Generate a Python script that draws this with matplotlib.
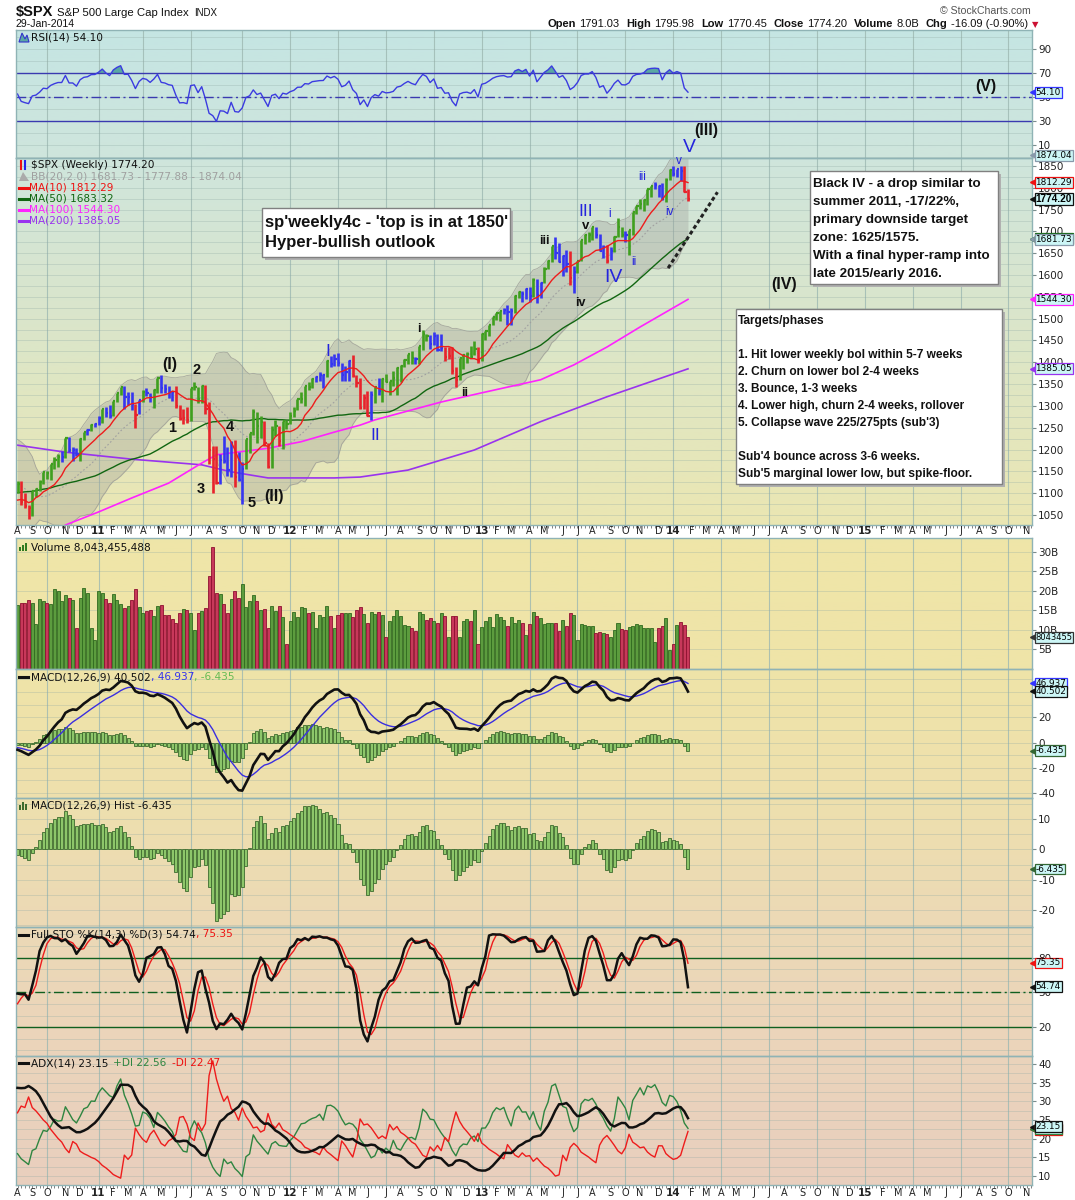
import numpy as np
import pandas as pd
import matplotlib
matplotlib.use("Agg")
import matplotlib.pyplot as plt
from matplotlib.lines import Line2D
from matplotlib.patches import Rectangle, Polygon
from matplotlib.colors import LinearSegmentedColormap
from matplotlib.transforms import blended_transform_factory

# ---------------------------------------------------------------
# weekly $SPX data (plus one year of lead-in
# so that the moving averages / oscillators are warmed up)
# ---------------------------------------------------------------
first_week = "2010-08-06"

warm_high = [1018, 1013, 1027, 1040, 1039, 1045, 1074, 1080, 1065, 1073, 1096, 1102, 1085,
             1072, 1097, 1113, 1112, 1119, 1110, 1117, 1130, 1133, 1145, 1150, 1150, 1115,
             1104, 1080, 1112, 1113, 1139, 1151, 1170, 1180, 1181, 1194, 1214, 1217, 1220,
             1197, 1174, 1147, 1106, 1105, 1093, 1120, 1131, 1078, 1078, 1100, 1103, 1121]
warm_low = [979, 990, 979, 1016, 991, 1017, 1041, 1041, 1020, 1026, 1069, 1074, 1033,
            1029, 1070, 1086, 1073, 1093, 1085, 1097, 1106, 1115, 1117, 1131, 1090, 1072,
            1044, 1056, 1075, 1086, 1105, 1135, 1143, 1156, 1164, 1175, 1187, 1181, 1183,
            1065, 1122, 1056, 1040, 1060, 1043, 1087, 1071, 1011, 1022, 1064, 1056, 1088]
warm_close = [1010, 1005, 1026, 1029, 1016, 1042, 1068, 1044, 1025, 1071, 1087, 1080, 1036,
              1069, 1093, 1091, 1092, 1106, 1106, 1102, 1127, 1115, 1145, 1136, 1092, 1074,
              1066, 1075, 1109, 1105, 1139, 1150, 1160, 1167, 1178, 1194, 1192, 1217, 1187,
              1111, 1136, 1088, 1089, 1065, 1092, 1117, 1076, 1023, 1078, 1065, 1102, 1102]

week_high = [
    # 2010
    1129, 1128, 1100, 1074, 1105, 1111, 1131, 1149, 1152, 1167, 1184, 1189, 1196, 1227,
    1228, 1207, 1204, 1226, 1241, 1247, 1259, 1262,
    # 2011
    1278, 1294, 1297, 1302, 1311, 1330, 1344, 1345, 1333, 1332, 1305, 1314, 1337, 1340,
    1329, 1338, 1364, 1370, 1350, 1346, 1334, 1346, 1302, 1293, 1298, 1341, 1356, 1344,
    1347, 1347, 1308, 1209, 1208, 1190, 1231, 1205, 1220, 1222, 1195, 1171, 1225, 1239,
    1293, 1285, 1277, 1266, 1215, 1255, 1267, 1255, 1265, 1268,
    # 2012
    1285, 1297, 1315, 1333, 1345, 1354, 1363, 1368, 1378, 1374, 1406, 1414, 1419, 1422,
    1398, 1392, 1406, 1416, 1370, 1365, 1328, 1334, 1335, 1344, 1364, 1363, 1374, 1357,
    1380, 1390, 1394, 1407, 1419, 1426, 1413, 1438, 1475, 1466, 1463, 1470, 1464, 1465,
    1434, 1434, 1434, 1389, 1409, 1420, 1424, 1438, 1448, 1435,
    # 2013
    1467, 1472, 1486, 1503, 1514, 1518, 1525, 1531, 1525, 1554, 1564, 1563, 1570, 1573,
    1594, 1592, 1585, 1618, 1635, 1667, 1687, 1674, 1646, 1658, 1654, 1620, 1632, 1680,
    1693, 1698, 1710, 1709, 1694, 1669, 1669, 1664, 1689, 1730, 1710, 1701, 1704, 1745,
    1759, 1775, 1774, 1798, 1804, 1813, 1806, 1811, 1823, 1844,
    # 2014
    1849, 1843, 1851, 1849, 1798]
week_low = [
    1100, 1074, 1067, 1040, 1048, 1092, 1106, 1122, 1132, 1131, 1155, 1159, 1171, 1180,
    1194, 1173, 1186, 1173, 1222, 1233, 1243, 1251,
    1257, 1262, 1275, 1273, 1276, 1310, 1325, 1294, 1302, 1291, 1249, 1282, 1309, 1322,
    1309, 1295, 1329, 1330, 1329, 1318, 1311, 1296, 1268, 1258, 1262, 1266, 1337, 1307,
    1306, 1282, 1168, 1101, 1121, 1122, 1170, 1140, 1136, 1114, 1128, 1075, 1155, 1191,
    1233, 1215, 1226, 1209, 1158, 1158, 1231, 1209, 1202, 1248,
    1258, 1274, 1290, 1306, 1300, 1337, 1340, 1356, 1357, 1340, 1366, 1389, 1391, 1392,
    1358, 1358, 1358, 1367, 1343, 1292, 1292, 1277, 1267, 1306, 1324, 1309, 1354, 1326,
    1345, 1325, 1354, 1390, 1397, 1397, 1397, 1396, 1429, 1449, 1430, 1439, 1425, 1426,
    1403, 1407, 1373, 1343, 1359, 1385, 1398, 1410, 1416, 1398,
    1402, 1451, 1460, 1485, 1496, 1495, 1510, 1486, 1485, 1514, 1547, 1538, 1545, 1539,
    1549, 1537, 1548, 1581, 1614, 1629, 1636, 1630, 1598, 1608, 1577, 1560, 1605, 1632,
    1671, 1676, 1681, 1684, 1654, 1640, 1627, 1634, 1653, 1687, 1687, 1675, 1646, 1692,
    1741, 1752, 1746, 1760, 1780, 1797, 1779, 1772, 1767, 1818,
    1828, 1824, 1815, 1790, 1770]
week_close = [
    1122, 1079, 1071, 1065, 1105, 1110, 1126, 1149, 1147, 1166, 1176, 1183, 1183, 1226,
    1200, 1200, 1189, 1225, 1240, 1244, 1257, 1258,
    1272, 1293, 1283, 1276, 1311, 1330, 1343, 1320, 1321, 1304, 1279, 1314, 1332, 1329,
    1320, 1337, 1364, 1340, 1338, 1333, 1331, 1300, 1271, 1272, 1268, 1340, 1344, 1316,
    1345, 1292, 1199, 1179, 1124, 1177, 1174, 1154, 1216, 1136, 1131, 1155, 1225, 1238,
    1285, 1253, 1264, 1216, 1159, 1244, 1255, 1219, 1265, 1258,
    1278, 1289, 1315, 1316, 1345, 1343, 1362, 1366, 1370, 1371, 1404, 1397, 1408, 1398,
    1370, 1378, 1403, 1369, 1353, 1295, 1318, 1278, 1325, 1343, 1335, 1362, 1355, 1357,
    1363, 1386, 1391, 1406, 1418, 1411, 1407, 1438, 1466, 1460, 1441, 1461, 1429, 1433,
    1412, 1414, 1380, 1359, 1409, 1416, 1418, 1413, 1430, 1402,
    1466, 1472, 1486, 1503, 1513, 1518, 1520, 1516, 1518, 1551, 1561, 1556, 1569, 1553,
    1588, 1555, 1582, 1614, 1633, 1667, 1650, 1631, 1643, 1626, 1593, 1606, 1632, 1680,
    1692, 1692, 1710, 1691, 1655, 1664, 1633, 1655, 1688, 1710, 1692, 1691, 1703, 1745,
    1759, 1762, 1771, 1798, 1804, 1806, 1805, 1775, 1818, 1841,
    1831, 1842, 1838, 1790, 1774.2]
# weekly volume, billions of shares
week_volume = [
    16.3, 16.7, 16.7, 17.5, 16.7, 11.3, 17.8, 17.2, 16.7, 16.6, 20.4, 19.9, 17.3, 18.8,
    18.2, 17.5, 10.3, 18.1, 20.6, 19.4, 10.5, 7.4,
    19.9, 19.4, 17.9, 16.7, 19.1, 17.6, 16.5, 15.6, 16.1, 17.6, 20.4, 15.8, 14.2, 14.8,
    14.9, 13.5, 16.1, 16.2, 13.7, 13.8, 12.8, 11.6, 14.2, 15.3, 15.0, 14.2, 9.8, 14.2,
    14.7, 15.5, 23.8, 31.3, 19.3, 19.1, 16.5, 14.2, 17.8, 19.8, 18.2, 21.7, 15.8, 17.4,
    18.8, 17.3, 14.9, 15.2, 10.5, 16.1, 14.8, 16.1, 13.3, 6.2,
    12.2, 14.4, 13.2, 15.8, 15.5, 14.3, 14.4, 10.5, 13.7, 13.2, 16.1, 13.5, 10.5, 13.7,
    14.2, 14.2, 14.2, 13.2, 15.0, 15.7, 14.0, 11.8, 14.6, 14.0, 14.4, 13.7, 8.1, 12.2,
    13.6, 15.0, 13.4, 11.1, 10.9, 10.4, 9.6, 14.4, 14.0, 12.5, 13.0, 12.1, 11.8, 14.2,
    13.5, 8.2, 13.5, 13.4, 8.0, 12.2, 12.6, 12.2, 15.0, 6.2,
    10.6, 12.1, 13.3, 10.6, 13.9, 13.3, 12.4, 11.0, 13.1, 11.8, 12.4, 11.7, 8.7, 11.5,
    14.4, 13.6, 12.9, 11.4, 11.6, 11.8, 11.7, 9.7, 12.5, 11.0, 14.2, 13.7, 7.2, 11.3,
    11.1, 10.9, 10.9, 9.2, 9.4, 9.0, 8.8, 8.2, 10.0, 11.6, 10.1, 10.0, 10.6, 10.8,
    11.4, 11.1, 10.4, 10.3, 10.3, 6.7, 10.3, 10.9, 12.9, 4.8,
    6.2, 11.1, 12.0, 11.1, 8.04]

ma100_week = [13, 22, 31, 41, 50, 54, 68, 77, 86, 93, 97, 115, 126, 142, 151, 160, 169, 182]
ma100_value = [1027, 1057, 1089, 1123, 1169, 1188, 1203, 1218, 1240, 1256, 1268, 1309,
               1330, 1360, 1394, 1435, 1481, 1544.3]
ma200_week = [0, 13, 31, 50, 58, 68, 86, 93, 106, 124, 142, 160, 182]
ma200_value = [1210, 1194, 1178, 1165, 1149, 1135, 1135, 1137, 1153, 1199, 1264, 1321, 1385.05]

# hand-drawn dashed trend line
trend_week = [176.6, 190.0]
trend_price = [1616, 1790]

assert len(week_high) == len(week_low) == len(week_close) == len(week_volume) == 183

# ---------------------------------------------------------------
# indicators
# ---------------------------------------------------------------
hi = pd.Series(warm_high + week_high, dtype=float)
lo = pd.Series(warm_low + week_low, dtype=float)
cl = pd.Series(warm_close + week_close, dtype=float)
nw = len(warm_close)

ma10 = cl.rolling(10).mean()
ma50 = cl.rolling(50, min_periods=40).mean()
bb_mid = cl.rolling(20).mean()
bb_sd = cl.rolling(20).std(ddof=0)
bb_hi = bb_mid + 2 * bb_sd
bb_lo = bb_mid - 2 * bb_sd

delta = cl.diff()
up = delta.clip(lower=0).ewm(alpha=1 / 14, adjust=False).mean()
dn = (-delta.clip(upper=0)).ewm(alpha=1 / 14, adjust=False).mean()
rsi = 100 - 100 / (1 + up / dn)

macd = cl.ewm(span=12, adjust=False).mean() - cl.ewm(span=26, adjust=False).mean()
signal = macd.ewm(span=9, adjust=False).mean()
hist = macd - signal

ll = lo.rolling(14).min()
hh = hi.rolling(14).max()
sto_k = (100 * (cl - ll) / (hh - ll)).rolling(3).mean()
sto_d = sto_k.rolling(3).mean()

prev_c = cl.shift()
tr = pd.concat([hi - lo, (hi - prev_c).abs(), (lo - prev_c).abs()], axis=1).max(axis=1)
up_move = hi.diff()
dn_move = -lo.diff()
pdm = np.where((up_move > dn_move) & (up_move > 0), up_move, 0.0)
mdm = np.where((dn_move > up_move) & (dn_move > 0), dn_move, 0.0)
atr = tr.ewm(alpha=1 / 14, adjust=False).mean()
pdi = 100 * pd.Series(pdm).ewm(alpha=1 / 14, adjust=False).mean() / atr
mdi = 100 * pd.Series(mdm).ewm(alpha=1 / 14, adjust=False).mean() / atr
dx = 100 * (pdi - mdi).abs() / (pdi + mdi)
adx = dx.ewm(alpha=1 / 14, adjust=False).mean()

# Elder impulse colours for the price bars
ema13 = cl.ewm(span=13, adjust=False).mean()
e_up, e_dn = ema13.diff() > 0, ema13.diff() < 0
h_up, h_dn = hist.diff() > 0, hist.diff() < 0
impulse = np.where(e_up & h_up, "#3f9f1f", np.where(e_dn & h_dn, "#e8232b", "#3535f0"))[nw:]


def tail(s):
    return np.asarray(s)[nw:]


x = np.arange(len(week_close))
closes = np.array(week_close)
vol_up = np.r_[closes[0] >= warm_close[-1], closes[1:] >= closes[:-1]]

# ---------------------------------------------------------------
# layout (pixel based, StockCharts style)
# ---------------------------------------------------------------
W, H = 1075, 1200
LEFT, RIGHT = 16, 1032
X0, DX = 17.5, 3.684
XLIM = ((LEFT - X0) / DX, (RIGHT - X0) / DX)
plt.rcParams['font.family'] = 'DejaVu Sans'

fig = plt.figure(figsize=(W / 100, H / 100), dpi=100)
fig.patch.set_facecolor('white')

dates = pd.date_range(first_week, periods=int(XLIM[1]) + 1, freq="7D")
month_pos = [i for i in range(len(dates)) if i == 0 or dates[i].month != dates[i - 1].month]
quarter_pos = [i for i in month_pos if dates[i].month in (1, 4, 7, 10)]

# background gradient behind all panels
bg = fig.add_axes([LEFT / W, 1 - 1185 / H, (RIGHT - LEFT) / W, (1185 - 30) / H])
stops = [(30, "#c5e5e3"), (158, "#cfe5dc"), (340, "#dce6c8"), (525, "#ebe6b2"),
         (538, "#efe6a8"), (668, "#efe4a8"), (798, "#eee0ad"), (927, "#ecd9b6"),
         (1056, "#ebd4bb"), (1185, "#e9cfbe")]
cmap = LinearSegmentedColormap.from_list(
    "bg", [((p - 30) / (1185 - 30), c) for p, c in stops])
bg.imshow(np.linspace(0, 1, 400).reshape(-1, 1), cmap=cmap, aspect="auto",
          extent=[LEFT, RIGHT, 1185, 30])
bg.add_patch(Rectangle((LEFT - 2, 525.5), RIGHT - LEFT + 4, 12.5, fc="white", ec="none"))
bg.set_xlim(LEFT, RIGHT)
bg.set_ylim(1185, 30)
bg.axis("off")


def panel(top, bottom, ylim, grid_step, ticks, labels=None):
    ax = fig.add_axes([LEFT / W, 1 - bottom / H, (RIGHT - LEFT) / W, (bottom - top) / H])
    ax.set_facecolor("none")
    ax.set_xlim(*XLIM)
    ax.set_ylim(*ylim)
    for s in ax.spines.values():
        s.set_color("#8fb3b5")
        s.set_linewidth(1.0)
    for q in quarter_pos:
        ax.axvline(q, color="#9db8b2", lw=0.8, alpha=0.8, zorder=0)
    g0 = np.ceil(ylim[0] / grid_step) * grid_step
    for g in np.arange(g0, ylim[1], grid_step):
        ax.axhline(g, color="#8fa9a4", lw=0.6, alpha=0.35, zorder=0)
    ax.yaxis.tick_right()
    ax.set_yticks(ticks)
    ax.set_yticklabels(labels if labels else [f"{t:g}" for t in ticks])
    ax.tick_params(axis="y", length=3, width=0.8, color="#7a8c8c", labelsize=7.5,
                   pad=1.5, labelcolor="#222222")
    ax.set_xticks([])
    ax.set_xticks(np.arange(0, XLIM[1], 1), minor=True)
    ax.tick_params(axis="x", which="minor", length=0)
    return ax


def week_ticks(ax):
    ax.tick_params(axis="x", which="minor", length=2, width=0.7, color="#808080",
                   direction="out")


def month_labels(y):
    for i in month_pos:
        d = dates[i]
        px = X0 + DX * i
        if px > RIGHT - 3:
            continue
        if d.month == 1:
            fig.text(px / W, 1 - y / H, f"{d.year % 100:02d}", fontsize=7.5,
                     fontweight="bold", ha="center", va="center", color="#222222")
        else:
            fig.text(px / W, 1 - y / H, "JFMAMJJASOND"[d.month - 1], fontsize=7,
                     ha="center", va="center", color="#222222")


def tag(ax, value, text, edge, bold=False, size=6.4):
    tr = blended_transform_factory(ax.transAxes, ax.transData)
    w = RIGHT - LEFT
    ax.plot([1 + 1.0 / w], [value], marker="<", ms=4.5, color=edge, mec=edge,
            transform=tr, clip_on=False, zorder=20)
    if bold:
        style = dict(fontsize=7.2, fontweight="bold", family="Liberation Sans")
    else:
        style = dict(fontsize=size, family="DejaVu Sans")
    ax.text(1 + 3.5 / w, value, text, transform=tr, ha="left", va="center",
            clip_on=False, zorder=21,
            bbox=dict(boxstyle="square,pad=0.1", fc="#ccf6f6", ec=edge, lw=0.9), **style)


def text_run(px, py, pieces, size, family="DejaVu Sans"):
    r = fig.canvas.get_renderer()
    for s, color, weight, gap in pieces:
        t = fig.text(px / W, 1 - py / H, s, fontsize=size, color=color,
                     fontweight=weight, family=family, ha="left", va="center")
        px += t.get_window_extent(r).width + gap
    return px


def legend_line(py, color, lw=2.2):
    fig.add_artist(Line2D([19 / W, 28 / W], [1 - py / H, 1 - py / H], color=color, lw=lw,
                          transform=fig.transFigure))


# ---------------- RSI ----------------
ax_r = panel(30.3, 158, (-0.86, 105.8), 10, [10, 30, 50, 70, 90])
r = tail(rsi)
ax_r.fill_between(x, 70, r, where=r > 70, interpolate=True, color="#5aa8a4", lw=0)
ax_r.fill_between(x, 30, r, where=r < 30, interpolate=True, color="#5aa8a4", lw=0)
ax_r.axhline(70, color="#3a3ab0", lw=1.0)
ax_r.axhline(30, color="#3a3ab0", lw=1.0)
ax_r.axhline(50, color="#3a3ab0", lw=1.0, ls=(0, (7, 2.5, 1.5, 2.5)))
ax_r.plot(x, r, color="#3b3be0", lw=1.0)
tag(ax_r, 54.10, "54.10", "#3333ff")
fig.add_artist(Polygon([[19 / W, 1 - 42 / H], [22 / W, 1 - 33 / H], [25 / W, 1 - 39 / H],
                        [27 / W, 1 - 35 / H], [29 / W, 1 - 42 / H]], closed=True,
                       transform=fig.transFigure, fc="#5aa8a4", ec="#3333cc", lw=0.8))
fig.text(31 / W, 1 - 37.5 / H, "RSI(14) 54.10", fontsize=7.6, va="center", color="#111111")

# ---------------- price ----------------
ax_p = panel(158, 525, (1027.1, 1868.3), 25, list(range(1050, 1851, 50)))
week_ticks(ax_p)
ax_p.fill_between(x, tail(bb_lo), tail(bb_hi), color="#9c9c96", alpha=0.33, lw=0, zorder=1)
ax_p.plot(x, tail(bb_hi), color="#9a9a94", lw=0.6, alpha=0.8, zorder=1)
ax_p.plot(x, tail(bb_lo), color="#9a9a94", lw=0.6, alpha=0.8, zorder=1)
ax_p.plot(x, tail(bb_mid), color="#a0a0a0", lw=0.8, ls=(0, (1.5, 2)), zorder=1)
ax_p.plot(ma200_week, ma200_value, color="#9933ee", lw=1.2, zorder=2)
ax_p.plot(ma100_week, ma100_value, color="#ff22ff", lw=1.2, zorder=2)
ax_p.plot(x, tail(ma50), color="#116611", lw=1.0, zorder=2)
ax_p.vlines(x, week_low, week_high, colors=impulse, lw=1.9, zorder=3)
ax_p.hlines(week_close, x, x + 0.6, colors=impulse, lw=1.6, zorder=3)
ax_p.plot(x, tail(ma10), color="#ee1c1c", lw=1.0, zorder=4)
ax_p.plot(trend_week, trend_price, color="#222222", lw=2.2, ls=(0, (1.3, 0.9)), zorder=5,
          clip_on=False)

tag(ax_p, 1874.04, "1874.04", "#8899aa")
tag(ax_p, 1812.29, "1812.29", "#ee1111")
tag(ax_p, 1774.20, "1774.20", "#111111", bold=True)
tag(ax_p, 1683.32, "1683.32", "#116611")
tag(ax_p, 1681.73, "1681.73", "#8899aa")
tag(ax_p, 1544.30, "1544.30", "#ff22ff")
tag(ax_p, 1385.05, "1385.05", "#9933ee")

fig.add_artist(Line2D([21 / W, 21 / W], [1 - 161 / H, 1 - 169 / H], color="#ee1111", lw=1.5,
                      transform=fig.transFigure))
fig.add_artist(Line2D([25 / W, 25 / W], [1 - 161 / H, 1 - 169 / H], color="#2222ee", lw=1.5,
                      transform=fig.transFigure))
fig.text(31 / W, 1 - 165.5 / H, "$SPX (Weekly) 1774.20", fontsize=7.6, va="center",
         color="#111111")
fig.add_artist(Polygon([[19 / W, 1 - 181 / H], [23 / W, 1 - 172 / H], [29 / W, 1 - 181 / H]],
                       closed=True, transform=fig.transFigure, fc="#aaaaaa", ec="none"))
fig.text(31 / W, 1 - 176.5 / H, "BB(20,2.0) 1681.73 - 1777.88 - 1874.04", fontsize=7.6,
         va="center", color="#a0a0a0")
for yy, col, txt in [(187.5, "#ee1111", "MA(10) 1812.29"), (198.5, "#116611", "MA(50) 1683.32"),
                     (209.5, "#ff22ff", "MA(100) 1544.30"), (220.5, "#9933ee", "MA(200) 1385.05")]:
    legend_line(yy, col)
    fig.text(29 / W, 1 - yy / H, txt, fontsize=7.6, va="center", color=col)

month_labels(531.5)


# annotation boxes
def note_box(x1, y1, x2, y2, lines, size):
    fig.add_artist(Rectangle(((x1 + 3) / W, 1 - (y2 + 3) / H), (x2 - x1) / W, (y2 - y1) / H,
                             transform=fig.transFigure, fc="#b0b0b0", ec="none"))
    fig.add_artist(Rectangle((x1 / W, 1 - y2 / H), (x2 - x1) / W, (y2 - y1) / H,
                             transform=fig.transFigure, fc="white", ec="#808080", lw=1.0))
    for tx, ty, s in lines:
        fig.text(tx / W, 1 - ty / H, s, fontsize=size, fontweight="bold",
                 family="Liberation Sans", va="center", ha="left", color="#111111")


note_box(262, 208, 510, 257, [(265, 222, "sp'weekly4c - 'top is in at 1850'"),
                              (265, 243, "Hyper-bullish outlook")], 12)
note_box(810, 171, 998, 284, [(813, 183.5, "Black IV - a drop similar to"),
                              (813, 201.7, "summer 2011, -17/22%,"),
                              (813, 220, "primary downside target"),
                              (813, 237.8, "zone: 1625/1575."),
                              (813, 255.8, "With a final hyper-ramp into"),
                              (813, 273.8, "late 2015/early 2016.")], 9.6)
note_box(736, 309, 1002, 484, [(738, 321, "Targets/phases"),
                               (738, 355, "1. Hit lower weekly bol within 5-7 weeks"),
                               (738, 372, "2. Churn on lower bol 2-4 weeks"),
                               (738, 389, "3. Bounce, 1-3 weeks"),
                               (738, 405.8, "4. Lower high, churn 2-4 weeks, rollover"),
                               (738, 423, "5. Collapse wave 225/275pts (sub'3)"),
                               (738, 456.8, "Sub'4 bounce across 3-6 weeks."),
                               (738, 473.8, "Sub'5 marginal lower low, but spike-floor.")], 8.6)

BLUE = "#2424dd"
wave_labels = [("(I)", 170, 365, "#111111", 11.5, "bold"), ("2", 197, 370, "#111111", 10.5, "bold"),
               ("1", 172, 428, "#111111", 10.5, "bold"), ("4", 230, 427, "#111111", 10.5, "bold"),
               ("3", 201, 489, "#111111", 10.5, "bold"), ("5", 252, 503, "#111111", 10.5, "bold"),
               ("(II)", 274, 497, "#111111", 11.5, "bold"), ("I", 328, 351, BLUE, 12.5, "normal"),
               ("II", 375, 435, BLUE, 12.5, "normal"), ("i", 419, 329, "#111111", 9, "bold"),
               ("ii", 465, 393, "#111111", 9, "bold"), ("iii", 544, 241, "#111111", 9, "bold"),
               ("III", 586, 211, BLUE, 12.5, "normal"), ("v", 586, 226, "#111111", 9.5, "bold"),
               ("iv", 580, 303, "#111111", 9, "bold"), ("i", 610, 214, BLUE, 8.5, "normal"),
               ("IV", 613, 277, BLUE, 14, "normal"), ("ii", 634, 262, BLUE, 8.5, "normal"),
               ("iii", 642, 177, BLUE, 8.5, "normal"), ("iv", 669, 212, BLUE, 8.5, "normal"),
               ("v", 679, 161, BLUE, 8.5, "normal"), ("V", 689, 148, BLUE, 14, "normal"),
               ("(III)", 706, 131, "#111111", 11.5, "bold"), ("(IV)", 784, 285, "#111111", 11.5, "bold"),
               ("(V)", 986, 86, "#111111", 11.5, "bold")]
for s, px, py, col, size, wt in wave_labels:
    fig.text(px / W, 1 - py / H, s, fontsize=size, fontweight=wt, color=col,
             family="Liberation Sans", ha="center", va="center", zorder=6)

# ---------------- volume ----------------
ax_v = panel(538, 668.5, (0, 33.5), 5, [5, 10, 15, 20, 25, 30],
             ["5B", "10B", "15B", "20B", "25B", "30B"])
ax_v.bar(x, week_volume, width=0.82, color=np.where(vol_up, "#5c9c3e", "#c8385a"),
         edgecolor=np.where(vol_up, "#2f6a1f", "#8e1030"), lw=0.6, zorder=2)
tag(ax_v, 8.04, "8043455", "#333333", size=6.0)
for i, h in enumerate([4, 6, 8]):
    fig.add_artist(Rectangle(((19 + 3 * i) / W, 1 - 551 / H), 2 / W, h / H,
                             transform=fig.transFigure, fc="#2f7a1f", ec="none"))
fig.text(31 / W, 1 - 547.5 / H, "Volume 8,043,455,488", fontsize=7.6, va="center",
         color="#111111")

# ---------------- MACD ----------------
ax_m = panel(668.5, 798.4, (-44.2, 58.7), 10, [-40, -20, 0, 20, 40])
ax_m.bar(x, tail(hist), width=0.82, color="#8dc66a", edgecolor="#3d6b2e", lw=0.6, zorder=2)
ax_m.plot(x, tail(signal), color="#3a2ee0", lw=1.0, zorder=3)
ax_m.plot(x, tail(macd), color="#111111", lw=1.9, zorder=4)
tag(ax_m, 46.937, "46.937", "#3333ff")
tag(ax_m, 40.502, "40.502", "#111111")
tag(ax_m, -6.435, "-6.435", "#336633")
legend_line(677, "#111111")
text_run(31, 677, [("MACD(12,26,9) 40.502", "#111111", "normal", 0),
                   (", 46.937", "#3333ee", "normal", 0),
                   (", -6.435", "#66bb55", "normal", 0)], 7.6)

# ---------------- MACD histogram ----------------
ax_h = panel(798.4, 927, (-25.5, 16.8), 5, [-20, -10, 0, 10])
ax_h.bar(x, tail(hist), width=0.82, color="#8dc66a", edgecolor="#3d6b2e", lw=0.6, zorder=2)
tag(ax_h, -6.435, "-6.435", "#336633")
for i, h in enumerate([5, 8, 6]):
    fig.add_artist(Rectangle(((19 + 3 * i) / W, 1 - 810 / H), 2 / W, h / H,
                             transform=fig.transFigure, fc="#3d6b2e", ec="none"))
fig.text(31 / W, 1 - 806 / H, "MACD(12,26,9) Hist -6.435", fontsize=7.6, va="center",
         color="#111111")

# ---------------- Full stochastics ----------------
ax_s = panel(927, 1056, (-4.9, 106.3), 10, [20, 50, 80])
ax_s.axhline(80, color="#0f5f1f", lw=1.0)
ax_s.axhline(20, color="#0f5f1f", lw=1.0)
ax_s.axhline(50, color="#0f5f1f", lw=1.0, ls=(0, (7, 2.5, 1.5, 2.5)))
ax_s.plot(x, tail(sto_d), color="#ee1c1c", lw=1.0, zorder=3)
ax_s.plot(x, tail(sto_k), color="#111111", lw=1.8, zorder=4)
tag(ax_s, 75.35, "75.35", "#ee1111")
tag(ax_s, 54.74, "54.74", "#111111")
legend_line(934.5, "#111111")
text_run(31, 934.5, [("Full STO %K(14,3) %D(3) 54.74", "#111111", "normal", 0),
                     (", 75.35", "#ee1111", "normal", 0)], 7.6)

# ---------------- ADX ----------------
ax_a = panel(1056, 1185, (7.6, 42.1), 2.5, [10, 15, 20, 25, 30, 35, 40])
week_ticks(ax_a)
ax_a.plot(x, tail(pdi), color="#2e8540", lw=1.0, zorder=3)
ax_a.plot(x, tail(mdi), color="#ee1c1c", lw=1.0, zorder=3)
ax_a.plot(x, tail(adx), color="#111111", lw=1.8, zorder=4)
tag(ax_a, 22.47, "22.47", "#ee1111")
tag(ax_a, 22.56, "22.56", "#2e8540")
tag(ax_a, 23.15, "23.15", "#111111")
legend_line(1063, "#111111")
text_run(31, 1063, [("ADX(14) 23.15", "#111111", "normal", 5),
                    ("+DI 22.56", "#2e8540", "normal", 5),
                    ("-DI 22.47", "#ee1111", "normal", 0)], 7.6)
month_labels(1193)

# ---------------- header ----------------
hx = text_run(16, 12, [("$SPX", "#111111", "bold", 4)], 10.5, family="Liberation Sans")
hx = text_run(hx, 12.5, [("S&P 500 Large Cap Index", "#111111", "normal", 5)], 8.2,
              family="Liberation Sans")
text_run(hx, 12.5, [("INDX", "#111111", "normal", 0)], 7, family="Liberation Sans")
fig.text(16 / W, 1 - 24 / H, "29-Jan-2014", fontsize=7.6, family="Liberation Sans",
         va="center", color="#111111")
fig.text(1031 / W, 1 - 11 / H, "\u00a9 StockCharts.com", fontsize=7.6, family="Liberation Sans",
         ha="right", va="center", color="#555555")
end = text_run(548, 24, [("Open", "#111111", "bold", 3), ("1791.03", "#111111", "normal", 7),
                         ("High", "#111111", "bold", 3), ("1795.98", "#111111", "normal", 7),
                         ("Low", "#111111", "bold", 3), ("1770.45", "#111111", "normal", 7),
                         ("Close", "#111111", "bold", 3), ("1774.20", "#111111", "normal", 7),
                         ("Volume", "#111111", "bold", 3), ("8.0B", "#111111", "normal", 7),
                         ("Chg", "#111111", "bold", 3), ("-16.09 (-0.90%)", "#111111", "normal", 4)],
               8, family="Liberation Sans")
fig.text(end / W, 1 - 25 / H, "\u25bc", fontsize=6, color="#cc1133", va="center", ha="left")

fig.savefig("out.png", dpi=100, facecolor="white")
